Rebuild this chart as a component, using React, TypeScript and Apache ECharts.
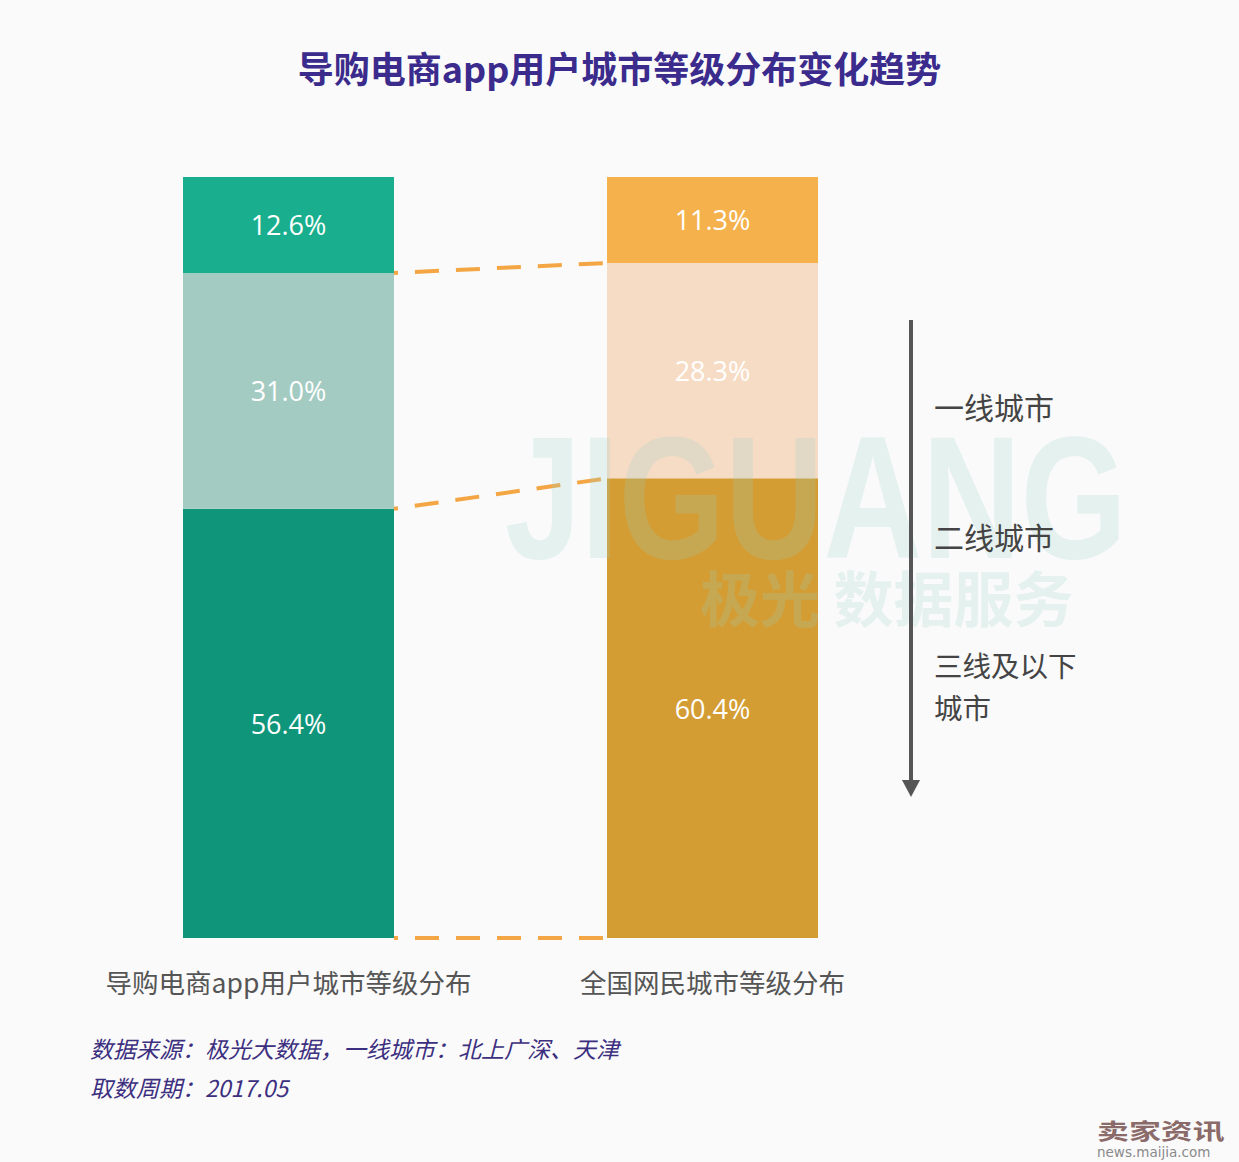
import React, { useEffect, useRef } from "react";
import * as echarts from "echarts";

const categories = ["导购电商app用户城市等级分布", "全国网民城市等级分布"];
const tierNames = ["三线及以下城市", "二线城市", "一线城市"];
const tier3Values = [56.4, 60.4];
const tier2Values = [31.0, 28.3];
const tier1Values = [12.6, 11.3];

const tier3Colors = ["#0f967a", "#d49d33"];
const tier2Colors = ["#a4cbc2", "#f7dcc5"];
const tier1Colors = ["#19ae8d", "#f5b14c"];

const CJK = '"Noto Sans CJK SC", "Noto Sans", sans-serif';
const BAR_W = 211;

export default function App() {
  const ref = useRef<HTMLDivElement>(null);
  useEffect(() => {
    if (!ref.current) return;
    const chart = echarts.init(ref.current, null, { renderer: "svg" });

    const mk = (vals: number[], colors: string[]) =>
      vals.map((v, i) => ({ value: v, itemStyle: { color: colors[i] } }));

    const connectorData = [
      [0, 0],
      [tier3Values[0], tier3Values[1]],
      [tier3Values[0] + tier2Values[0], tier3Values[1] + tier2Values[1]],
    ];

    const label = {
      show: true,
      position: "inside",
      color: "#ffffff",
      fontSize: 27,
      fontFamily: '"Open Sans", "Noto Sans", sans-serif',
      formatter: (p: any) => p.value.toFixed(1) + "%",
    };

    const rightLabel = (text: string, y: number, size = 30) => ({
      type: "text",
      z: 20,
      x: 934,
      y,
      style: { text, fill: "#444444", font: `${size}px ${CJK}`, verticalAlign: "middle" },
    });

    chart.setOption({
      animation: false,
      backgroundColor: "#fafafa",
      title: {
        text: "导购电商app用户城市等级分布变化趋势",
        left: "center",
        top: 44,
        textStyle: { color: "#3b2b8c", fontSize: 36, fontWeight: "bold", fontFamily: CJK },
      },
      grid: { left: 76.5, width: 848, top: 177, height: 761 },
      xAxis: {
        type: "category",
        data: categories,
        axisLine: { show: false },
        axisTick: { show: false },
        axisLabel: {
          color: "#555555",
          fontSize: 26.5,
          margin: 30,
          interval: 0,
          hideOverlap: false,
          fontFamily: CJK,
        },
      },
      yAxis: { type: "value", min: 0, max: 100, show: false },
      graphic: [
        {
          type: "text",
          z: 10,
          x: 505,
          y: 410,
          scaleX: 0.78,
          silent: true,
          style: {
            text: "JIGUANG",
            fill: "rgba(150,210,200,0.22)",
            font: 'bold 175px "Liberation Sans", sans-serif',
          },
        },
        {
          type: "text",
          z: 10,
          x: 700,
          y: 565,
          silent: true,
          style: {
            text: "极光 数据服务",
            fill: "rgba(150,210,200,0.22)",
            font: `bold 60px ${CJK}`,
          },
        },
        {
          type: "line",
          z: 20,
          shape: { x1: 911, y1: 320, x2: 911, y2: 782 },
          style: { stroke: "#555555", lineWidth: 4 },
        },
        {
          type: "polygon",
          z: 20,
          shape: { points: [[902, 780], [920, 780], [911, 797]] },
          style: { fill: "#555555" },
        },
        rightLabel("一线城市", 406),
        rightLabel("二线城市", 536),
        rightLabel("三线及以下", 664, 28.5),
        rightLabel("城市", 706, 28.5),
        {
          type: "text",
          x: 90,
          y: 1048,
          style: {
            text: "数据来源：极光大数据，一线城市：北上广深、天津",
            fill: "#3d2f80",
            font: `italic 23px ${CJK}`,
            verticalAlign: "middle",
          },
        },
        {
          type: "text",
          x: 90,
          y: 1087,
          style: {
            text: "取数周期：2017.05",
            fill: "#3d2f80",
            font: `italic 23px ${CJK}`,
            verticalAlign: "middle",
          },
        },
        {
          type: "text",
          x: 1097,
          y: 1129,
          scaleX: 1.45,
          style: {
            text: "卖家资讯",
            fill: "#8b6a6a",
            font: `bold 22px ${CJK}`,
            verticalAlign: "middle",
          },
        },
        {
          type: "text",
          x: 1097,
          y: 1152,
          style: {
            text: "news.maijia.com",
            fill: "#8a8a8a",
            font: '13.5px "DejaVu Sans", sans-serif',
            verticalAlign: "middle",
          },
        },
      ],
      series: [
        {
          name: tierNames[0],
          type: "bar",
          stack: "total",
          barWidth: BAR_W,
          data: mk(tier3Values, tier3Colors),
          label,
        },
        {
          name: tierNames[1],
          type: "bar",
          stack: "total",
          barWidth: BAR_W,
          data: mk(tier2Values, tier2Colors),
          label,
        },
        {
          name: tierNames[2],
          type: "bar",
          stack: "total",
          barWidth: BAR_W,
          data: mk(tier1Values, tier1Colors),
          label,
        },
        {
          type: "custom",
          z: 5,
          data: connectorData,
          renderItem: (params: any, api: any) => {
            const a = api.coord([0, api.value(0)]);
            const b = api.coord([1, api.value(1)]);
            return {
              type: "line",
              shape: { x1: a[0] + BAR_W / 2, y1: a[1], x2: b[0] - BAR_W / 2, y2: b[1] },
              style: { stroke: "#f3a643", lineWidth: 4, lineDash: [24, 17], lineDashOffset: 20 },
            };
          },
          encode: { x: 0, y: 1 },
        },
      ],
    });
    return () => chart.dispose();
  }, []);

  return (
    <div
      ref={ref}
      style={{ position: "absolute", left: 0, top: 0, width: 1239, height: 1162 }}
    />
  );
}
